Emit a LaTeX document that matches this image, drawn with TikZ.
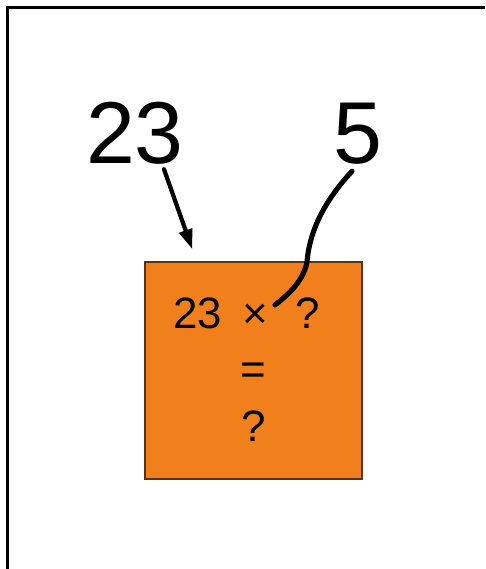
\documentclass[tikz,border=0pt]{standalone}
\usepackage{fontspec}
\setmainfont{Liberation Sans}
\usepackage{tikz}
\usetikzlibrary{arrows.meta, positioning, calc}
\definecolor{boxorange}{RGB}{241, 127, 28}
\definecolor{boxedge}{RGB}{90, 50, 20}
\tikzstyle{numlabel} = [inner sep=0pt, anchor=base, font=\fontsize{50}{60}\selectfont]
\tikzstyle{calcbox} = [rectangle, draw=boxedge, fill=boxorange, minimum width=4.34cm, minimum height=4.34cm, line width=0.8pt, inner sep=0pt]
\tikzstyle{calctext} = [inner sep=0pt, anchor=base, font=\fontsize{25}{30}\selectfont]
\tikzstyle{pointer} = [-{Triangle[length=4mm, width=2.6mm]}, line width=2.4pt, line cap=round]
\tikzstyle{scribble} = [line width=2.9pt, line cap=round, line join=round]

\begin{document}
\begin{tikzpicture}[x=0.02cm, y=-0.02cm]
    \useasboundingbox (0,0) rectangle (485,569);
    % Frame
    \draw[line width=1.7pt] (7.5,569) -- (7.5,7.5) -- (485,7.5);

    % Numbers
    \node[numlabel] (multiplicand) at (135,163) {23};
    \node[numlabel] (multiplier) at (358,163) {5};

    % Box
    \node[calcbox] (calc) at (253.5,370.5) {};
    \node[calctext, anchor=base west] (sum) at (173,328) {23\hspace{0.46em}×\hspace{0.62em}?};
    \node[calctext] (equals) at (253.5,384) {=};
    \node[calctext] (result) at (253.5,441) {?};

    % Arrows
    \draw[pointer] ([xshift=0.58cm, yshift=-0.1cm]multiplicand.south) -- ([xshift=0.96cm, yshift=0.24cm]calc.north west);
    \coordinate (pen) at (275,305);
    \draw[scribble] ([xshift=-0.12cm, yshift=-0.14cm]multiplier.south) .. controls (330,195) and (310,225) .. (307,262) .. controls (303,283) and (285,297) .. (pen);
\end{tikzpicture}
\end{document}
